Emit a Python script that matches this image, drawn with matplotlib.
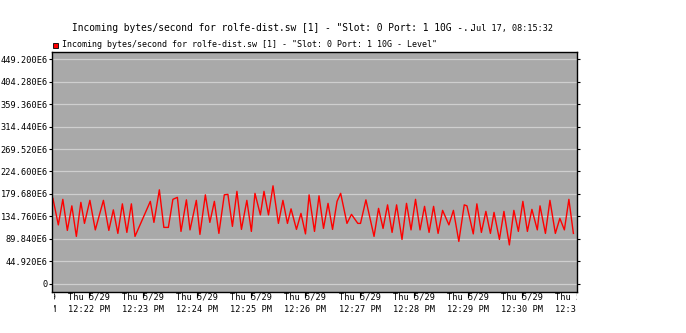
import matplotlib
matplotlib.use('Agg')
import matplotlib.pyplot as plt
from matplotlib.transforms import Bbox, TransformedBbox, blended_transform_factory

# sample times, seconds after 12:21:00 PM
seconds = [20, 26, 31, 36, 41, 46, 51, 55, 61, 67, 76, 82, 87, 92, 97, 102, 107, 111,
           128, 132, 138, 143, 148, 153, 158, 162, 168, 172, 179, 183, 189, 194, 199, 204, 210, 214,
           219, 224, 229, 235, 240, 244, 250, 254, 259, 264, 270, 275, 280, 284, 290, 295, 300, 304, 310,
           315, 320, 325, 330, 335, 339, 346, 351, 358, 361, 367, 376, 381, 386, 391, 396, 401, 407,
           412, 417, 422, 427, 432, 437, 442, 447, 452, 459, 464, 470, 476, 479, 486, 490, 495, 500, 505,
           509, 515, 520, 526, 531, 536, 541, 546, 551, 557, 560, 566, 571, 577, 582, 587, 592, 597]
# incoming bytes/second in millions
level = [171, 118, 169, 107, 156, 95, 163, 121, 167, 108, 167, 107, 148, 101, 160, 103, 160, 95,
         165, 123, 188, 113, 113, 169, 173, 105, 168, 108, 167, 99, 178, 123, 165, 101, 178, 179,
         115, 185, 109, 167, 105, 181, 138, 185, 138, 196, 121, 167, 121, 150, 109, 141, 100, 178, 105,
         176, 111, 161, 109, 165, 181, 121, 139, 121, 121, 168, 95, 151, 111, 158, 103, 158, 89,
         161, 108, 169, 108, 155, 103, 155, 101, 147, 118, 147, 85, 158, 156, 100, 160, 103, 145, 101,
         143, 89, 145, 78, 147, 105, 165, 105, 149, 108, 156, 101, 167, 101, 131, 108, 169, 101]

y_ticks = [0, 44.92, 89.84, 134.76, 179.68, 224.6, 269.52, 314.44, 359.36, 404.28, 449.2]
y_labels = ['0', '44.920E6', '89.840E6', '134.760E6', '179.680E6', '224.600E6',
            '269.520E6', '314.440E6', '359.360E6', '404.280E6', '449.200E6']
x_ticks = [0, 60, 120, 180, 240, 300, 360, 420, 480, 540, 600]
x_labels = ['Thu 5/29\n12:%d PM' % m for m in range(21, 32)]

title = 'Incoming bytes/second for rolfe-dist.sw [1] - "Slot: 0 Port: 1 10G -..'
stamp = 'Jul 17, 08:15:32'
legend_label = 'Incoming bytes/second for rolfe-dist.sw [1] - "Slot: 0 Port: 1 10G - Level"'

mono = 'DejaVu Sans Mono'
W, H = 686, 333
fig = plt.figure(figsize=(W / 100, H / 100), dpi=100)
ax = fig.add_axes([52 / W, 1 - 292 / H, 525 / W, 240 / H])
ax.set_facecolor('#a9a9a9')

ax.plot(seconds, [v * 1e6 for v in level], color='#ff0000', lw=1.0)

ax.set_xlim(19, 601)
ax.set_ylim(-16e6, 463.2e6)
ax.set_yticks([v * 1e6 for v in y_ticks])
ax.set_yticklabels(y_labels, fontfamily=mono, fontsize=6.2)
ax.yaxis.grid(True, color='#cfcfcf', lw=0.9)
ax.tick_params(axis='y', length=2, width=0.8, pad=1, right=True, direction='out')
ax.set_xticks(x_ticks[1:-1])
ax.set_xticklabels([])
ax.tick_params(axis='x', length=4, width=0.8, direction='out')
for sp in ax.spines.values():
    sp.set_linewidth(1.0)

# x labels, clipped to the plot width like the original
clip = TransformedBbox(Bbox([[0.004, 0], [1, 1]]),
                       blended_transform_factory(ax.transAxes, fig.transFigure))
for xt, lab in zip(x_ticks, x_labels):
    t = ax.text(xt, -16.5e6, lab, ha='center', va='top', fontfamily=mono, fontsize=6.2,
                linespacing=1.5, clip_on=True)
    t.set_clip_box(clip)

fig.text(72 / W, 1 - 28 / H, title, ha='left', va='center', fontfamily=mono, fontsize=6.9)
fig.text(471 / W, 1 - 29 / H, stamp, ha='left', va='center', fontfamily=mono, fontsize=6.1)

fig.patches.append(plt.Rectangle((53 / W, 1 - 48 / H), 5 / W, 5 / H, transform=fig.transFigure,
                                 facecolor='#ff0000', edgecolor='black', lw=0.6))
fig.text(62 / W, 1 - 44.5 / H, legend_label, ha='left', va='center', fontfamily=mono, fontsize=6.0)

fig.savefig('out.png', dpi=100)
